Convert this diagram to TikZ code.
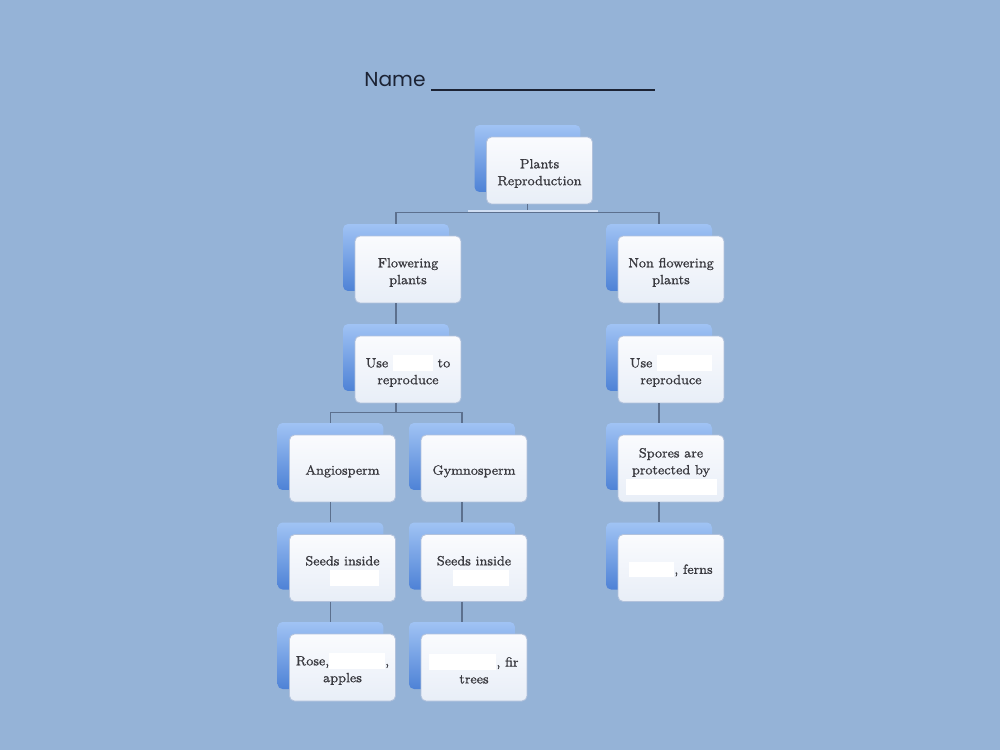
\documentclass[tikz,border=0pt]{standalone}
\usepackage{fontspec}
\newfontfamily\headfont{Poppins}
\newfontfamily\boxfont{Latin Modern Roman}[FakeBold=1]
\usepackage{tikz}
\usetikzlibrary{positioning}
\usetikzlibrary{calc}
\definecolor{bgblue}{RGB}{149,179,215}
\definecolor{backtop}{RGB}{160,195,244}
\definecolor{backbottom}{RGB}{78,130,214}
\definecolor{fronttop}{RGB}{250,251,254}
\definecolor{frontbottom}{RGB}{232,238,247}
\definecolor{frontline}{RGB}{178,194,220}
\definecolor{textgray}{RGB}{58,58,64}
\definecolor{linkgray}{RGB}{92,112,142}
\definecolor{glintblue}{RGB}{208,222,242}
\definecolor{namecol}{RGB}{28,35,52}
\tikzset{
    back/.style={rectangle, rounded corners=0.1cm, inner sep=0pt,
        minimum width=2.12cm, minimum height=1.34cm,
        top color=backtop, bottom color=backbottom},
    front/.style={rectangle, rounded corners=0.1cm, inner sep=0pt,
        minimum width=2.12cm, minimum height=1.34cm,
        draw=frontline, line width=0.5pt,
        top color=fronttop, bottom color=frontbottom,
        text=textgray, align=center,
        font=\boxfont\fontsize{7.6}{9.6}\selectfont},
    link/.style={draw=linkgray, line width=0.6pt},
    glint/.style={draw=glintblue, line width=1.2pt},
}
% white patch over a hidden word
\newcommand{\blank}[1]{{\color{white}\rule[-2pt]{#1}{9pt}}}
% back box, then front box shifted 12 right and 12 down
\newcommand{\concept}[3]{%
    \node[back] (#1back) at (#2) {};
    \node[front] (#1) at ([shift={(12,12)}]#1back.center) {\rule{0pt}{8.6pt}#3};}

\begin{document}
\begin{tikzpicture}[x=0.02cm, y=-0.02cm]
    \fill[bgblue] (0,0) rectangle (1000,750);
    \useasboundingbox (0,0) rectangle (1000,750);
    % heading
    \node[anchor=base west, inner sep=0pt, text=namecol,
        font=\headfont\fontsize{11.5}{13}\selectfont] (name) at (364,87) {Name};
    \coordinate (lineA) at (431,90);
    \coordinate (lineB) at (655,90);
    \draw[namecol, line width=1.1pt] (lineA) -- (lineB);
    % boxes
    \concept{root}{527.5,158.5}{Plants\\Reproduction}
    \concept{flower}{396,257.5}{Flowering\\plants}
    \concept{nonflower}{659,257.5}{Non flowering\\plants}
    \concept{useseed}{396,357.5}{Use \blank{0.8cm} to\\reproduce}
    \concept{usespore}{659,357.5}{Use \blank{1.1cm}\\reproduce}
    \concept{angio}{330.5,456.5}{Angiosperm}
    \concept{gymno}{462,456.5}{Gymnosperm}
    \concept{spores}{659,456.5}{Spores are\\protected by\\\blank{1.82cm}}
    \concept{seedsA}{330.5,556}{Seeds inside\\\hspace*{0.48cm}\blank{1cm}}
    \concept{seedsG}{462,556}{Seeds inside\\\hspace*{0.28cm}\blank{1.12cm}}
    \concept{ferns}{659,556}{\blank{0.9cm}, ferns}
    \concept{rose}{330.5,655.5}{Rose,\blank{1.12cm},\\apples}
    \concept{pine}{462,655.5}{\blank{1.34cm}, fir\\trees}
    % connectors
    \draw[link] (rootback |- root.south) -- ++(0,9);
    \draw[link] (flowerback.north) -- ++(0,-11) -| (nonflowerback.north);
    \draw[glint] (468,211) -- (598,211);
    \draw[link] (flowerback |- flower.south) -- (useseedback.north);
    \draw[link] (angioback.north) -- ++(0,-10) coordinate (split) -| (gymnoback.north);
    \draw[link] (useseedback |- useseed.south) -- (useseedback |- split);
    \draw[link] (angioback |- angio.south) -- (seedsAback.north);
    \draw[link] (seedsAback |- seedsA.south) -- (roseback.north);
    \draw[link] (gymnoback |- gymno.south) -- (seedsGback.north);
    \draw[link] (seedsGback |- seedsG.south) -- (pineback.north);
    \draw[link] (nonflowerback |- nonflower.south) -- (usesporeback.north);
    \draw[link] (usesporeback |- usespore.south) -- (sporesback.north);
    \draw[link] (sporesback |- spores.south) -- (fernsback.north);
\end{tikzpicture}
\end{document}
